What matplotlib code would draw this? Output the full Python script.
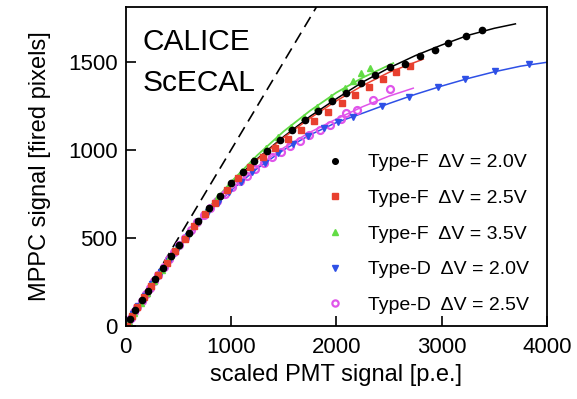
import matplotlib
matplotlib.use("Agg")
import matplotlib.pyplot as plt

plt.rcParams['font.family'] = ['Liberation Sans', 'DejaVu Sans']

# ---- data: Type-F dV=2.0V (black circles)
f20_x = [40, 90, 150, 210, 280, 350, 430, 510, 600, 690, 790, 890, 1000, 1110, 1220, 1340,
         1460, 1580, 1700, 1830, 1960, 2090, 2230, 2370, 2510, 2650, 2790, 2940, 3060, 3230, 3380]
f20_y = [40, 88, 145, 200, 265, 328, 398, 458, 530, 597, 672, 740, 812, 875, 935, 995,
         1055, 1110, 1168, 1222, 1275, 1325, 1380, 1425, 1468, 1490, 1532, 1566, 1606, 1648, 1678]
f20_fit_x = [0, 250, 500, 750, 1000, 1250, 1500, 1750, 2000, 2250, 2500, 2750, 3000, 3250, 3500, 3700]
f20_fit_y = [0, 237, 450, 640, 810, 950, 1075, 1190, 1290, 1385, 1465, 1535, 1595, 1650, 1690, 1715]

# Type-F dV=2.5V (red squares)
f25_x = [10, 60, 110, 170, 240, 310, 390, 470, 560, 650, 750, 850, 960, 1070, 1180, 1300,
         1420, 1540, 1660, 1790, 1920, 2050, 2180, 2310, 2440, 2570, 2700]
f25_y = [0, 55, 105, 162, 225, 290, 360, 425, 495, 565, 635, 700, 772, 840, 900, 958,
         1012, 1062, 1112, 1165, 1215, 1265, 1310, 1355, 1400, 1440, 1478]
f25_fit_x = [0, 250, 500, 750, 1000, 1250, 1500, 1750, 2000, 2250, 2500, 2825]
f25_fit_y = [0, 236, 445, 630, 800, 945, 1070, 1180, 1278, 1365, 1440, 1515]

# Type-F dV=3.5V (green triangles)
f35_x = [30, 80, 140, 200, 270, 340, 420, 500, 590, 680, 780, 880, 990, 1100, 1210, 1330,
         1450, 1570, 1690, 1820, 1950, 2080, 2160, 2238, 2317]
f35_y = [20, 72, 130, 188, 255, 320, 395, 458, 525, 595, 668, 738, 812, 880, 945, 1010,
         1072, 1128, 1185, 1245, 1300, 1352, 1390, 1435, 1463]
f35_fit_x = [0, 250, 500, 750, 1000, 1250, 1500, 1750, 2000, 2250, 2540]
f35_fit_y = [0, 238, 452, 645, 818, 970, 1105, 1222, 1325, 1410, 1492]

# Type-D dV=2.0V (blue down-triangles)
d20_x = [30, 70, 120, 180, 250, 330, 410, 500, 590, 683, 780, 873, 980, 1090, 1200, 1320,
         1450, 1590, 1730, 1880, 2020, 2159, 2429, 2689, 2968, 3222, 3508, 3825]
d20_y = [29, 68, 116, 173, 236, 305, 370, 440, 510, 593, 645, 697, 760, 815, 872, 925,
         982, 1035, 1080, 1125, 1160, 1185, 1246, 1300, 1358, 1400, 1450, 1490]
d20_fit_x = [0, 250, 500, 750, 1000, 1250, 1500, 1750, 2000, 2250, 2500, 2750, 3000, 3250,
             3500, 3750, 4000]
d20_fit_y = [0, 237, 440, 625, 770, 895, 1000, 1085, 1155, 1208, 1263, 1315, 1362, 1405,
             1443, 1475, 1497]

# Type-D dV=2.5V (magenta open circles)
d25_x = [20, 50, 80, 110, 150, 190, 230, 270, 310, 360, 410, 460, 510, 560, 620, 680, 740,
         800, 870, 940, 1010, 1080, 1150, 1230, 1310, 1390, 1470, 1560, 1650, 1740, 1840,
         1940, 2040, 2095, 2200, 2349, 2508]
d25_y = [20, 48, 77, 105, 142, 180, 218, 254, 290, 335, 378, 420, 460, 498, 545, 590, 632,
         672, 712, 752, 788, 822, 853, 890, 925, 957, 988, 1020, 1052, 1082, 1112,
         1143, 1173, 1208, 1225, 1284, 1344]
d25_fit_x = [0, 250, 500, 750, 1000, 1250, 1500, 1750, 2000, 2250, 2500, 2730]
d25_fit_y = [0, 237, 440, 625, 775, 905, 1012, 1100, 1175, 1245, 1305, 1350]

# linear reference (no saturation)
lin_x = [0, 1900]
lin_y = [0, 1900]

labels = ['Type-F  ΔV = 2.0V', 'Type-F  ΔV = 2.5V', 'Type-F  ΔV = 3.5V',
          'Type-D  ΔV = 2.0V', 'Type-D  ΔV = 2.5V']
x_ticks = [0, 1000, 2000, 3000, 4000]
y_ticks = [0, 500, 1000, 1500]

black = '#000000'
red = '#e8402f'
green = '#62dc45'
blue = '#2e50e6'
magenta = '#e055ea'

fig = plt.figure(figsize=(5.77, 3.99), dpi=100)
ax = fig.add_axes([0.218, 0.183, 0.730, 0.800])

ax.plot(lin_x, lin_y, color='black', lw=1.2, dashes=(7, 4))

ax.plot(f20_fit_x, f20_fit_y, color=black, lw=1.1)
ax.plot(f25_fit_x, f25_fit_y, color=red, lw=1.1)
ax.plot(f35_fit_x, f35_fit_y, color=green, lw=1.3)
ax.plot(d20_fit_x, d20_fit_y, color=blue, lw=1.1)
ax.plot(d25_fit_x, d25_fit_y, color=magenta, lw=1.1)

h1, = ax.plot(d25_x, d25_y, 'o', ms=5, mfc='none', mec=magenta, mew=1.6, linestyle='none')
h2, = ax.plot(d20_x, d20_y, 'v', ms=5, color=blue, linestyle='none')
h3, = ax.plot(f35_x, f35_y, '^', ms=5, color=green, linestyle='none')
h4, = ax.plot(f25_x, f25_y, 's', ms=4.5, color=red, linestyle='none')
h5, = ax.plot(f20_x, f20_y, 'o', ms=4.5, color=black, linestyle='none')

ax.set_xlim(0, 4000)
ax.set_ylim(0, 1812)
ax.set_xticks(x_ticks)
ax.set_yticks(y_ticks)
ax.tick_params(direction='in', length=7, width=1.2, labelsize=16)
ax.tick_params(axis='x', pad=8)
ax.tick_params(axis='y', pad=6)
for s in ax.spines.values():
    s.set_linewidth(1.3)

ax.set_xlabel('scaled PMT signal [p.e.]', fontsize=17, labelpad=4)
ax.set_ylabel('MPPC signal [fired pixels]', fontsize=17, labelpad=12)

ax.text(0.04, 0.865, 'CALICE', transform=ax.transAxes, fontsize=21.5)
ax.text(0.04, 0.735, 'ScECAL', transform=ax.transAxes, fontsize=21.5)

leg = ax.legend([h5, h4, h3, h2, h1], labels, loc='upper left',
                bbox_to_anchor=(0.45, 0.57), frameon=False, fontsize=14,
                labelspacing=0.93, handletextpad=1.2, handlelength=1.0,
                markerscale=0.9, borderpad=0.0)

fig.savefig('out.png', dpi=100)
